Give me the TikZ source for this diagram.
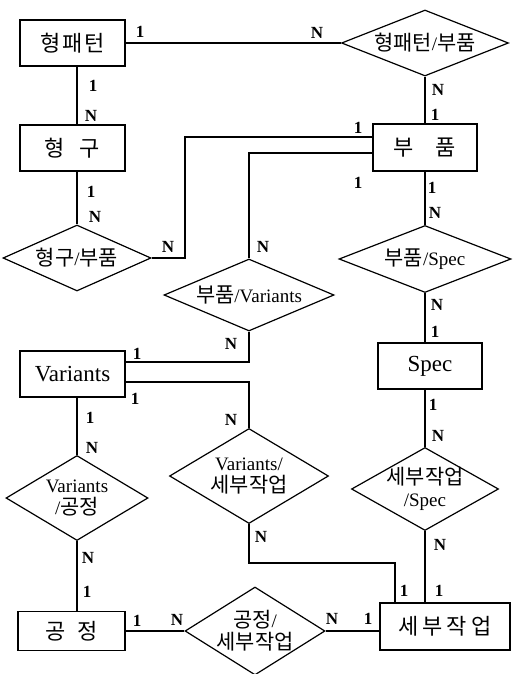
\documentclass[tikz,border=0pt]{standalone}
\usepackage{fontspec}
\setmainfont{Liberation Serif}
\newfontfamily\kr[Scale=1.1]{Noto Sans CJK KR}
\usetikzlibrary{shapes.geometric}
\begin{document}
\begin{tikzpicture}[x=1pt,y=-1pt,
  entk/.style={draw, line width=1.2pt, inner sep=0pt, font=\kr\fontsize{20}{22}\selectfont},
  entl/.style={draw, line width=1.2pt, inner sep=0pt, font=\fontsize{23}{25}\selectfont},
  rel/.style={diamond, draw, line width=1.2pt, inner sep=-3pt, align=center, font=\fontsize{19}{22}\selectfont},
  lbl/.style={inner sep=0pt, font=\bfseries\fontsize{17}{17}\selectfont},
  conn/.style={line width=1.2pt}]
\useasboundingbox (0,0) rectangle (513,674);
% entities
\node[entk, minimum width=105pt, minimum height=46pt] (A) at (72.5,43) {형\hspace{2pt}패\hspace{2pt}턴};
\node[entk, minimum width=105pt, minimum height=46pt] (B) at (72.5,148) {형\hspace{15pt}구};
\node[entk, minimum width=104pt, minimum height=47pt] (C) at (425,147.5) {부\hspace{22pt}품};
\node[entl, minimum width=104pt, minimum height=46pt] (D) at (430,366) {Spec};
\node[entl, minimum width=105pt, minimum height=46pt] (E) at (72.5,374) {Variants};
\node[entk, minimum width=107pt, minimum height=39pt] (F) at (71.5,631) {공\hspace{12pt}정};
\node[entk, minimum width=130pt, minimum height=47pt] (G) at (445,626.5) {세\hspace{4pt}부\hspace{4pt}작\hspace{4pt}업};
% relationships
\node[rel, minimum width=167pt, minimum height=66pt, shape aspect=2.53] (R1) at (425,43) {{\kr 형패턴}/{\kr 부품}};
\node[rel, minimum width=148pt, minimum height=66pt, shape aspect=2.24] (R2) at (77,258) {{\kr 형구}/{\kr 부품}};
\node[rel, minimum width=170pt, minimum height=72pt, shape aspect=2.36] (R3) at (249,295) {{\kr 부품}/Variants};
\node[rel, minimum width=172pt, minimum height=67pt, shape aspect=2.57] (R4) at (425,259) {{\kr 부품}/Spec};
\node[rel, minimum width=142pt, minimum height=85pt, shape aspect=1.67] (R5) at (77,498) {Variants\\/{\kr 공정}};
\node[rel, minimum width=159pt, minimum height=95pt, shape aspect=1.67] (R6) at (249,476) {Variants/\\{\kr 세부작업}};
\node[rel, minimum width=147pt, minimum height=83pt, shape aspect=1.77] (R7) at (425,489) {{\kr 세부작업}\\/Spec};
\node[rel, minimum width=140pt, minimum height=88pt, shape aspect=1.59] (R8) at (255,631) {{\kr 공정}/\\{\kr 세부작업}};
% bend points
\coordinate (b1) at (185,137);
\coordinate (b2) at (395,563);
% connectors
\draw[conn] (A.east) -- (R1.west);
\draw[conn] (R1.south) -- (C.north);
\draw[conn] ([xshift=4.5pt]A.south) -- ([xshift=4.5pt]B.north);
\draw[conn] ([xshift=4.5pt]B.south) -- (R2.north);
\draw[conn] (R2.east) -| (b1) -- ([yshift=10.5pt]C.west);
\draw[conn] (R3.north) |- ([yshift=-5.5pt]C.west);
\draw[conn] (R3.south) |- ([yshift=12pt]E.east);
\draw[conn] ([yshift=-8pt]E.east) -| (R6.north);
\draw[conn] (C.south) -- (R4.north);
\draw[conn] (R4.south) -- (R4.south |- D.north);
\draw[conn] (R7.north |- D.south) -- (R7.north);
\draw[conn] (R7.south) -- (R7.south |- G.north);
\draw[conn] (R6.south) |- (b2) -- (b2 |- G.north);
\draw[conn] ([xshift=4.5pt]E.south) -- (R5.north);
\draw[conn] (R5.south) -- (R5.south |- F.north);
\draw[conn] (F.east) -- (R8.west);
\draw[conn] (R8.east) -- (R8.east -| G.west);
% cardinality labels
\node[lbl] (l1) at (140,32) {1};
\node[lbl] (l2) at (317,33) {N};
\node[lbl] (l3) at (93,86) {1};
\node[lbl] (l4) at (91,116) {N};
\node[lbl] (l5) at (438,90) {N};
\node[lbl] (l6) at (435,115) {1};
\node[lbl] (l7) at (358,128) {1};
\node[lbl] (l8) at (358,183) {1};
\node[lbl] (l9) at (91,192) {1};
\node[lbl] (l10) at (95,217) {N};
\node[lbl] (l11) at (168,247) {N};
\node[lbl] (l12) at (263,247) {N};
\node[lbl] (l13) at (432,188) {1};
\node[lbl] (l14) at (435,213) {N};
\node[lbl] (l15) at (437,305) {N};
\node[lbl] (l16) at (435,332) {1};
\node[lbl] (l17) at (231,344) {N};
\node[lbl] (l18) at (137,354) {1};
\node[lbl] (l19) at (135,399) {1};
\node[lbl] (l20) at (231,420) {N};
\node[lbl] (l21) at (90,418) {1};
\node[lbl] (l22) at (92,448) {N};
\node[lbl] (l23) at (433,405) {1};
\node[lbl] (l24) at (438,436) {N};
\node[lbl] (l25) at (88,558) {N};
\node[lbl] (l26) at (87,592) {1};
\node[lbl] (l27) at (261,537) {N};
\node[lbl] (l28) at (440,545) {N};
\node[lbl] (l29) at (404,591) {1};
\node[lbl] (l30) at (439,591) {1};
\node[lbl] (l31) at (137,621) {1};
\node[lbl] (l32) at (177,620) {N};
\node[lbl] (l33) at (332,619) {N};
\node[lbl] (l34) at (368,619) {1};
\end{tikzpicture}
\end{document}
